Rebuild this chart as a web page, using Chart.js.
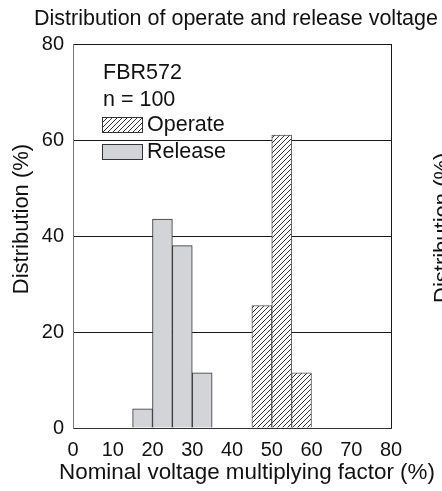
<!DOCTYPE html>
<html lang="en">
<head>
    <meta charset="UTF-8">
    <title>Distribution of operate and release voltage</title>
    <script src="https://cdn.jsdelivr.net/npm/chart.js"></script>
    <style>
        body {
            margin: 0;
            background-color: #ffffff;
        }
        #wrap {
            width: 442px;
            height: 491px;
            position: relative;
        }
    </style>
</head>
<body>
    <div id="wrap"><canvas id="chart"></canvas></div>
    <script>
        // Data (bin centres, 5 % wide bins)
        const releaseBins = [17.5, 22.5, 27.5, 32.5];
        const releaseValues = [4, 43.5, 38, 11.5];
        const operateBins = [47.5, 52.5, 57.5];
        const operateValues = [25.5, 61, 11.5];
        const xTicks = [0, 10, 20, 30, 40, 50, 60, 70, 80];
        const yTicks = [0, 20, 40, 60, 80];

        const FONT = '"Liberation Sans", Arial, sans-serif';

        // Hatch fill for the "Operate" bars
        function makeHatch() {
            const c = document.createElement('canvas');
            c.width = 5;
            c.height = 5;
            const g = c.getContext('2d');
            g.fillStyle = '#ffffff';
            g.fillRect(0, 0, 5, 5);
            g.strokeStyle = '#1a1a1a';
            g.lineWidth = 0.9;
            g.beginPath();
            g.moveTo(-1, 6); g.lineTo(6, -1);
            g.moveTo(-1, 1); g.lineTo(1, -1);
            g.moveTo(4, 6); g.lineTo(6, 4);
            g.stroke();
            return g.createPattern(c, 'repeat');
        }
        const hatch = makeHatch();
        const releaseFill = '#d3d4d7';

        // Title, inner legend block, axis titles and the cut-off neighbour label
        const textPlugin = {
            id: 'texts',
            afterDraw(chart) {
                const ctx = chart.ctx;
                ctx.save();
                ctx.fillStyle = '#111111';
                ctx.textBaseline = 'alphabetic';

                ctx.font = '21.5px ' + FONT;
                ctx.textAlign = 'center';
                ctx.fillText('Distribution of operate and release voltage', 236, 25);

                ctx.font = '22.4px ' + FONT;
                ctx.fillText('Nominal voltage multiplying factor (%)', 247, 479);

                ctx.font = '22px ' + FONT;
                ctx.save();
                ctx.translate(28, 219);
                ctx.rotate(-Math.PI / 2);
                ctx.fillText('Distribution (%)', 0, 0);
                ctx.restore();

                // neighbouring chart's axis title, mostly off the picture
                ctx.save();
                ctx.translate(449, 303);
                ctx.rotate(-Math.PI / 2);
                ctx.textAlign = 'left';
                ctx.fillText('Distribution (%)', 0, 0);
                ctx.restore();

                // legend block inside the plot
                ctx.textAlign = 'left';
                ctx.font = '21.5px ' + FONT;
                ctx.fillText('FBR572', 103, 79);
                ctx.fillText('n = 100', 103, 105.5);

                const items = chart.data.datasets;
                const rows = [131, 158];
                items.forEach((ds, i) => {
                    const base = rows[i];
                    ctx.fillStyle = ds.backgroundColor;
                    ctx.fillRect(102.5, base - 14, 40, 15);
                    ctx.strokeStyle = '#333333';
                    ctx.lineWidth = 1;
                    ctx.strokeRect(102.5, base - 14 + 0.5, 40, 15);
                    ctx.fillStyle = '#111111';
                    ctx.fillText(ds.label, 147, base);
                });
                ctx.restore();
            }
        };

        const ctx = document.getElementById('chart').getContext('2d');
        new Chart(ctx, {
            type: 'bar',
            data: {
                datasets: [
                    {
                        label: 'Operate',
                        data: operateBins.map((x, i) => ({ x: x, y: operateValues[i] })),
                        backgroundColor: hatch,
                        borderColor: '#555555',
                        borderWidth: 1,
                        grouped: false,
                        categoryPercentage: 1,
                        barPercentage: 1
                    },
                    {
                        label: 'Release',
                        data: releaseBins.map((x, i) => ({ x: x, y: releaseValues[i] })),
                        backgroundColor: releaseFill,
                        borderColor: '#333333',
                        borderWidth: 1,
                        grouped: false,
                        categoryPercentage: 1,
                        barPercentage: 1
                    }
                ]
            },
            options: {
                responsive: true,
                maintainAspectRatio: false,
                animation: false,
                layout: {
                    padding: { top: 44, right: 51, left: 0, bottom: 0 }
                },
                plugins: {
                    legend: { display: false },
                    tooltip: { enabled: false }
                },
                scales: {
                    x: {
                        type: 'linear',
                        min: 0,
                        max: 80,
                        offset: false,
                        afterFit(scale) { scale.height = 63; },
                        afterBuildTicks(scale) { scale.ticks = xTicks.map(v => ({ value: v })); },
                        grid: {
                            offset: false,
                            drawTicks: false,
                            color: c => (c.tick && c.tick.value === 80 ? '#1a1a1a' : 'rgba(0,0,0,0)')
                        },
                        border: { display: true, color: '#333333' },
                        ticks: {
                            color: '#111111',
                            padding: 10,
                            maxRotation: 0,
                            font: { family: FONT, size: 20 }
                        }
                    },
                    y: {
                        min: 0,
                        max: 80,
                        afterFit(scale) { scale.width = 73; },
                        afterBuildTicks(scale) { scale.ticks = yTicks.map(v => ({ value: v })); },
                        grid: {
                            drawTicks: false,
                            color: '#1a1a1a'
                        },
                        border: { display: true, color: '#777777' },
                        ticks: {
                            color: '#111111',
                            padding: 9,
                            font: { family: FONT, size: 20 }
                        }
                    }
                }
            },
            plugins: [textPlugin]
        });
    </script>
</body>
</html>
